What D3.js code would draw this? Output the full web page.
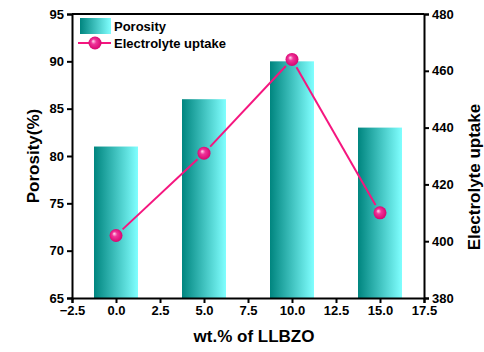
<!DOCTYPE html>
<html>
<head>
<meta charset="utf-8">
<script src="https://cdn.jsdelivr.net/npm/d3@7"></script>
<style>
  body { margin: 0; background: #fff; }
  text { font-family: "Liberation Sans", Arial, sans-serif; font-weight: bold; fill: #000; }
</style>
</head>
<body>
<svg id="chart" width="484" height="352"></svg>
<script>
/* ── Data ─────────────────────────────────────────────── */
const loadings = [0, 5, 10, 15];            // wt.% of LLBZO
const porosity = [81, 86, 90, 83];          // %
const uptake   = [402, 431, 464, 410];      // electrolyte uptake
const xTicks   = [-2.5, 0, 2.5, 5, 7.5, 10, 12.5, 15, 17.5];
const yLeftTicks  = [65, 70, 75, 80, 85, 90, 95];
const yRightTicks = [380, 400, 420, 440, 460, 480];

/* ── Layout ───────────────────────────────────────────── */
const svg = d3.select("#chart");
const m = { left: 72, right: 424, top: 14, bottom: 298 };

const x  = d3.scaleLinear().domain([-2.5, 17.5]).range([m.left, m.right]);
const yL = d3.scaleLinear().domain([65, 95]).range([m.bottom, m.top]);
const yR = d3.scaleLinear().domain([380, 480]).range([m.bottom, m.top]);

const defs = svg.append("defs");
const grad = defs.append("linearGradient").attr("id", "barGrad")
  .attr("x1", "0%").attr("x2", "100%").attr("y1", "0%").attr("y2", "0%");
grad.append("stop").attr("offset", "0%").attr("stop-color", "#00857f");
grad.append("stop").attr("offset", "100%").attr("stop-color", "#80ffff");

const ball = defs.append("radialGradient").attr("id", "ballGrad")
  .attr("cx", "50%").attr("cy", "50%").attr("r", "55%")
  .attr("fx", "35%").attr("fy", "35%");
ball.append("stop").attr("offset", "0%").attr("stop-color", "#ffe0f0");
ball.append("stop").attr("offset", "35%").attr("stop-color", "#f0349a");
ball.append("stop").attr("offset", "100%").attr("stop-color", "#d4006a");

/* ── Bars ─────────────────────────────────────────────── */
const barW = x(1.25) - x(-1.25);
svg.append("g").selectAll("rect")
  .data(loadings)
  .join("rect")
    .attr("x", (d) => x(d) - barW / 2)
    .attr("y", (d, i) => yL(porosity[i]))
    .attr("width", barW)
    .attr("height", (d, i) => yL(65) - yL(porosity[i]))
    .attr("fill", "url(#barGrad)");

/* ── Line with gaps near markers ──────────────────────── */
const pts = loadings.map((d, i) => [x(d), yR(uptake[i])]);
const gap = 9;
const lineG = svg.append("g");
for (let i = 0; i < pts.length - 1; i++) {
  const [x1, y1] = pts[i], [x2, y2] = pts[i + 1];
  const len = Math.hypot(x2 - x1, y2 - y1);
  const ux = (x2 - x1) / len, uy = (y2 - y1) / len;
  lineG.append("line")
    .attr("x1", x1 + ux * gap).attr("y1", y1 + uy * gap)
    .attr("x2", x2 - ux * gap).attr("y2", y2 - uy * gap)
    .attr("stroke", "#f5167f").attr("stroke-width", 2);
}
svg.append("g").selectAll("circle")
  .data(pts)
  .join("circle")
    .attr("cx", (d) => d[0]).attr("cy", (d) => d[1])
    .attr("r", 6.5)
    .attr("fill", "url(#ballGrad)");

/* ── Axes ─────────────────────────────────────────────── */
const fmt1 = d3.format(".1f");
const xAxis = svg.append("g").attr("transform", `translate(0,${m.bottom})`)
  .call(d3.axisBottom(x).tickValues(xTicks).tickFormat(fmt1).tickSize(5).tickPadding(3));
const lAxis = svg.append("g").attr("transform", `translate(${m.left},0)`)
  .call(d3.axisLeft(yL).tickValues(yLeftTicks).tickSize(5).tickPadding(3));
const rAxis = svg.append("g").attr("transform", `translate(${m.right},0)`)
  .call(d3.axisRight(yR).tickValues(yRightTicks).tickSize(5).tickPadding(3));

for (const a of [xAxis, lAxis, rAxis]) {
  a.select(".domain").attr("stroke", "#000").attr("stroke-width", 2);
  a.selectAll(".tick line").attr("stroke", "#000").attr("stroke-width", 2);
  a.selectAll(".tick text").style("font-size", "13px").style("font-weight", "bold");
}
svg.append("line")
  .attr("x1", m.left).attr("x2", m.right).attr("y1", m.top).attr("y2", m.top)
  .attr("stroke", "#000").attr("stroke-width", 2);

/* ── Axis titles ──────────────────────────────────────── */
svg.append("text")
  .attr("transform", "translate(39,156) rotate(-90)")
  .attr("text-anchor", "middle").style("font-size", "17px")
  .text("Porosity(%)");
svg.append("text")
  .attr("transform", "translate(480,177) rotate(-90)")
  .attr("text-anchor", "middle").style("font-size", "17px")
  .text("Electrolyte uptake");
svg.append("text")
  .attr("x", 254).attr("y", 342)
  .attr("text-anchor", "middle").style("font-size", "17px")
  .text("wt.% of LLBZO");

/* ── Legend ───────────────────────────────────────────── */
const lg = svg.append("g");
lg.append("rect").attr("x", 80).attr("y", 18).attr("width", 31).attr("height", 16)
  .attr("fill", "url(#barGrad)");
lg.append("text").attr("x", 114).attr("y", 31).style("font-size", "13px").text("Porosity");
lg.append("line").attr("x1", 78).attr("x2", 111).attr("y1", 43).attr("y2", 43)
  .attr("stroke", "#f5167f").attr("stroke-width", 2);
lg.append("circle").attr("cx", 95).attr("cy", 43).attr("r", 6.5).attr("fill", "url(#ballGrad)");
lg.append("text").attr("x", 114).attr("y", 48).style("font-size", "13px").text("Electrolyte uptake");
</script>
</body>
</html>
